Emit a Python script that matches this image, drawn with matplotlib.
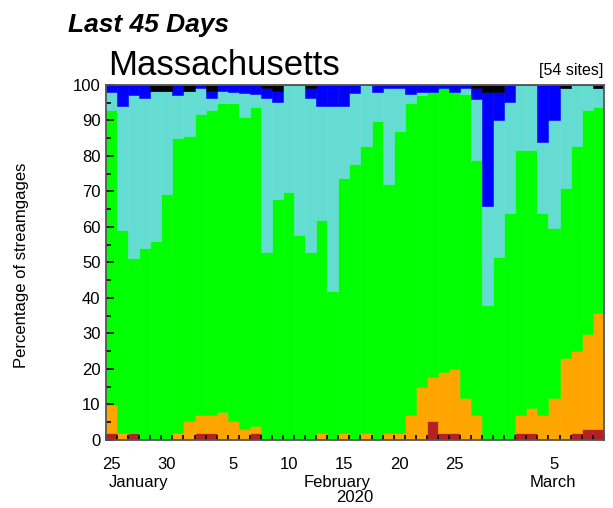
import numpy as np
import pandas as pd
import matplotlib
matplotlib.use("Agg")
import matplotlib.pyplot as plt
import matplotlib.transforms as mtransforms

plt.rcParams['font.family'] = ['Liberation Sans', 'DejaVu Sans']

# Dias: 25 de enero a 9 de marzo de 2020 (45 dias)
fechas = pd.date_range("2020-01-25", periods=45, freq="D")

# Porcentaje de estaciones en cada clase (de abajo hacia arriba)
muy_bajo = [1.9, 0, 1.9, 0, 0, 0, 0, 0, 1.9, 1.9, 0, 0, 0, 1.9, 0,
            0, 0, 0, 0, 0, 0, 0, 0, 0, 0, 0, 0, 0, 0, 5.2,
            1.9, 1.9, 0, 0, 0, 0, 0, 1.9, 1.9, 0, 0, 0, 1.9, 3.0, 3.0]
bajo = [8.0, 1.9, 0, 0, 0, 0, 1.9, 5.2, 5.1, 5.1, 7.8, 5.2, 3.0, 2.0, 0,
        0, 0, 0, 0, 1.9, 0, 1.9, 0, 1.9, 0, 1.9, 1.9, 7.0, 15.0, 12.6,
        17.1, 18.0, 11.9, 7.0, 0, 0, 0, 5.1, 7.2, 7.0, 11.9, 23.0, 23.2, 26.9, 32.7]
normal = [83.1, 57.3, 49.3, 54.0, 55.9, 69.2, 83.1, 80.5, 84.9, 86.0, 87.0, 89.6, 87.9, 89.8, 53.0,
          67.9, 69.8, 57.7, 53.0, 59.9, 42.0, 71.8, 77.7, 81.0, 89.7, 70.1, 85.0, 88.0, 82.2, 80.2,
          80.0, 78.1, 85.4, 71.9, 38.0, 51.6, 63.8, 74.7, 72.6, 56.8, 47.9, 47.9, 57.8, 63.1, 58.0]
alto = [5.0, 34.8, 46.0, 42.2, 42.3, 29.0, 12.2, 12.5, 7.2, 3.2, 3.4, 3.2, 6.8, 3.6, 43.2,
        27.3, 30.2, 42.3, 43.2, 32.2, 52.0, 20.3, 20.0, 17.1, 8.3, 27.2, 12.3, 2.3, 0.9, 0,
        0, 0, 1.9, 17.0, 27.9, 38.4, 31.4, 18.3, 18.3, 20.2, 30.2, 28.3, 17.1, 7.0, 5.4]
muy_alto = [2.0, 6.0, 2.8, 3.8, 0, 0, 2.8, 0, 0.9, 2.0, 1.8, 2.0, 2.3, 2.7, 2.9,
            3.0, 0, 0, 2.9, 6.0, 6.0, 6.0, 2.3, 0, 2.0, 0.8, 0.8, 2.7, 1.9, 2.0,
            0.9, 2.0, 0.8, 3.2, 32.1, 8.0, 4.8, 0, 0, 16.0, 10.0, 0, 0, 0, 0]
maximo = [0, 0, 0, 0, 1.8, 1.8, 0, 1.8, 0, 1.8, 0, 0, 0, 0, 0.9,
          1.8, 0, 0, 0.9, 0, 0, 0, 0, 0, 0, 0, 0, 0, 0, 0,
          0, 0, 0, 0.9, 2.0, 2.0, 0, 0, 0, 0, 0, 0.8, 0, 0, 0.9]

series = [muy_bajo, bajo, normal, alto, muy_alto, maximo]
colores = ["#b22222", "#ffa500", "#00ff00", "#64dcd2", "#0000ff", "#000000"]

fig = plt.figure(figsize=(6.13, 5.08), dpi=100)
ax = fig.add_axes([0.173, 0.134, 0.812, 0.699])

x = np.arange(len(fechas))
base = np.zeros(len(fechas))
for valores, color in zip(series, colores):
    valores = np.array(valores)
    ax.bar(x, valores, width=1.0, bottom=base, color=color,
           edgecolor=color, linewidth=0.4, zorder=1)
    base = base + valores

ax.set_xlim(-0.5, len(fechas) - 0.5)
ax.set_ylim(0, 100)

# Eje y
ax.set_yticks(np.arange(0, 101, 10))
ax.set_yticks(np.arange(5, 100, 10), minor=True)
ax.tick_params(axis="y", which="major", direction="in", length=6, width=1.2,
               labelsize=12, colors="black", pad=4)
ax.tick_params(axis="y", which="minor", direction="in", length=3.5, width=1.2)

# Eje x: marcas en los limites de cada dia, etiquetas cada 5 dias
ax.set_xticks(np.arange(-0.5, len(fechas), 1.0))
ax.set_xticklabels([])
ax.tick_params(axis="x", which="major", direction="in", length=3.5, width=1.2)
pos_etiq = [i for i, f in enumerate(fechas) if f.day % 5 == 0]
ax.set_xticks(pos_etiq, minor=True)
ax.set_xticklabels([str(fechas[i].day) for i in pos_etiq], minor=True)
ax.tick_params(axis="x", which="minor", length=0, labelsize=12, pad=12)

for lado in ["left", "bottom", "top", "right"]:
    ax.spines[lado].set_color("#555555")
    ax.spines[lado].set_linewidth(1.3)

# Nombres de meses
trans = mtransforms.blended_transform_factory(ax.transData, fig.transFigure)
ax.text(2.4, 0.051, "January", transform=trans, ha="center", va="center", fontsize=12)
ax.text(20.4, 0.051, "February", transform=trans, ha="center", va="center", fontsize=12)
ax.text(22.0, 0.020, "2020", transform=trans, ha="center", va="center", fontsize=12)
ax.text(39.9, 0.051, "March", transform=trans, ha="center", va="center", fontsize=12)

fig.text(0.035, 0.478, "Percentage of streamgages", rotation=90,
         ha="center", va="center", fontsize=12)

fig.text(0.111, 0.950, "Last 45 Days", fontsize=19, fontweight="bold",
         fontstyle="italic", ha="left", va="center")
fig.text(0.176, 0.872, "Massachusetts", fontsize=25, ha="left", va="center")
fig.text(0.984, 0.862, "[54 sites]", fontsize=11.5, ha="right", va="center")

fig.savefig("out.png", dpi=100)
